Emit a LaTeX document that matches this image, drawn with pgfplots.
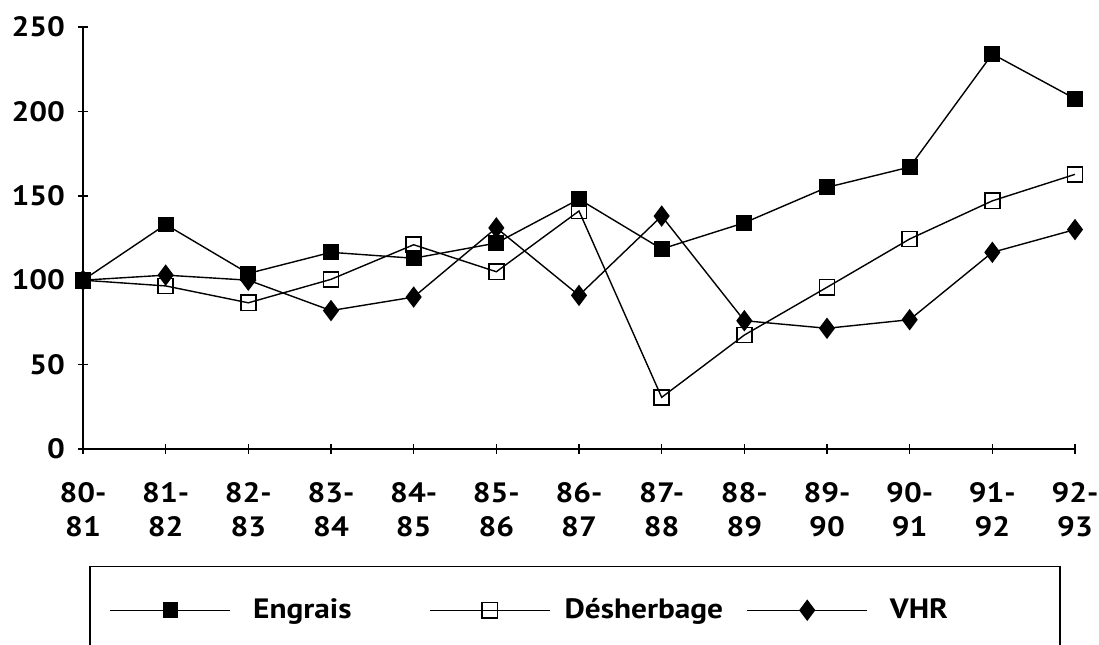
\documentclass[border=0pt]{standalone}
\usepackage{fontspec}
\setmainfont{PT Sans}[FakeStretch=1.12]
\usepackage{pgfplots}
\pgfplotsset{compat=1.18}

% Indices (base 100 en 80-81)
% col: 0 = 80-81 ... 12 = 92-93
\begin{document}
\begin{tikzpicture}
\begin{axis}[
  scale only axis,
  width=496pt, height=211pt,
  xmin=0, xmax=12, ymin=0, ymax=250,
  axis x line=bottom, axis y line=left,
  axis line style={-, line width=0.9pt},
  xtick={0,...,12},
  xticklabels={{80-\\81},{81-\\82},{82-\\83},{83-\\84},{84-\\85},{85-\\86},{86-\\87},{87-\\88},{88-\\89},{89-\\90},{90-\\91},{91-\\92},{92-\\93}},
  ytick={0,50,...,250},
  tick align=center,
  major tick length=5pt,
  tick style={line width=0.8pt, black},
  xticklabel style={align=center, font=\fontsize{14}{17}\selectfont\bfseries, yshift=-10.5pt},
  yticklabel style={font=\fontsize{14}{17}\selectfont\bfseries, xshift=-3pt},
  /pgf/number format/assume math mode=true,
  clip=false,
  legend columns=3,
  legend style={
    at={(axis description cs:0.006,-0.277)}, anchor=north west,
    draw=black, line width=0.8pt,
    font=\fontsize{14}{17}\selectfont\bfseries,
    inner xsep=10pt, inner ysep=14pt,
    nodes={inner xsep=0pt},
    /tikz/every odd column/.append style={column sep=11pt},
    /tikz/every even column/.append style={column sep=0pt},
  },
  legend cell align=left,
  legend image code/.code={
    \draw[mark repeat=2,mark phase=2,#1] plot coordinates {(0pt,0pt) (30pt,0pt) (60pt,0pt)};
  },
]
\addplot[black, line width=0.7pt, mark=square*, mark size=3.6pt, mark options={solid}]
  coordinates {(0,100) (1,133) (2,104) (3,116.5) (4,113) (5,122) (6,148) (7,118.5) (8,134) (9,155) (10,167) (11,234) (12,207.5)};
\addlegendentry{\makebox[88pt][l]{Engrais}}
\addplot[black, line width=0.7pt, mark=square, mark size=3.8pt, mark options={solid, fill=white, line width=0.8pt}]
  coordinates {(0,100) (1,96.6) (2,86.6) (3,100.5) (4,121) (5,105) (6,141) (7,30.6) (8,67.5) (9,95.8) (10,124.4) (11,147) (12,162.7)};
\addlegendentry{\hspace*{-4pt}\makebox[91pt][l]{Désherbage}}
\addplot[black, line width=0.7pt, mark=diamond*, mark size=4.8pt, mark options={solid}]
  coordinates {(0,100) (1,103) (2,100) (3,82) (4,90) (5,131) (6,91) (7,138) (8,76) (9,71.5) (10,76.6) (11,116.5) (12,130)};
\addlegendentry{\makebox[75pt][l]{VHR}}
\coordinate (bl) at (rel axis cs:0,0);
\coordinate (tr) at (rel axis cs:1,1);
\end{axis}
\pgfresetboundingbox
\path[use as bounding box] ([xshift=-41.5pt,yshift=-98pt]bl) rectangle ([xshift=12pt,yshift=13.5pt]tr);
\end{tikzpicture}
\end{document}
